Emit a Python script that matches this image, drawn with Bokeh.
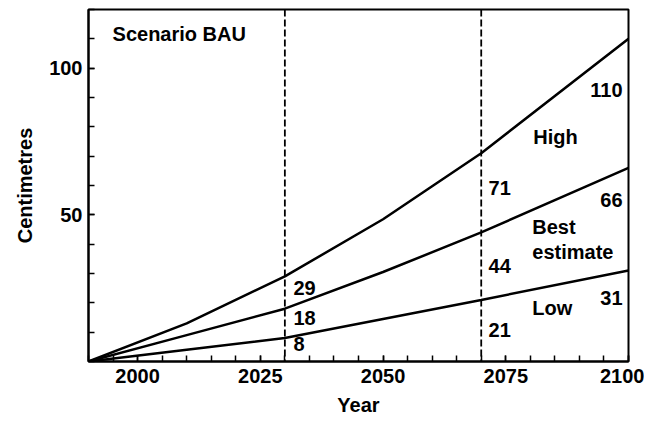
from bokeh.plotting import figure
from bokeh.models import Span, Range1d, FixedTicker, ColumnDataSource
from bokeh.embed import file_html
from bokeh.resources import INLINE
from bokeh.core.properties import value

# ---- data ----
years = [1990, 2010, 2030, 2050, 2070, 2100]
high = [0, 13, 29, 48.5, 71, 110]
best = [0, 9, 18, 30.5, 44, 66]
low = [0, 4, 8, 14.5, 21, 31]

marker_years = [2030, 2070]
x_major = [2000, 2025, 2050, 2075, 2100]
x_minor = list(range(1990, 2101, 5))
y_major = [50, 100]
y_minor = list(range(0, 121, 10))

title_text = "Scenario BAU"
series_names = ["High", "Best", "estimate", "Low"]

FONT = "Liberation Sans"
FS = "20px"

p = figure(width=644, height=422, output_backend="svg", toolbar_location=None,
           x_range=Range1d(1990, 2100), y_range=Range1d(0, 120),
           min_border_left=88, min_border_right=16, min_border_top=9, min_border_bottom=61)
p.background_fill_color = "white"
p.border_fill_color = "white"
p.grid.visible = False
p.outline_line_color = "black"
p.outline_line_width = 2

for ax in (p.xaxis[0], p.yaxis[0]):
    ax.axis_line_width = 2
    ax.major_tick_in = 6
    ax.major_tick_out = 0
    ax.minor_tick_in = 6
    ax.minor_tick_out = 0
    ax.major_tick_line_width = 1.5
    ax.minor_tick_line_width = 1.5
    ax.major_label_text_font = FONT
    ax.major_label_text_font_size = FS
    ax.major_label_text_font_style = "bold"
    ax.major_label_text_color = "black"
    ax.axis_label_text_font = FONT
    ax.axis_label_text_font_size = FS
    ax.axis_label_text_font_style = "bold"
    ax.axis_label_text_color = "black"

p.xaxis.ticker = FixedTicker(ticks=x_major, minor_ticks=x_minor)
p.yaxis.ticker = FixedTicker(ticks=y_major, minor_ticks=y_minor)
p.xaxis.major_label_standoff = 7
p.yaxis.major_label_standoff = 6
p.xaxis.axis_label = "Year"
p.yaxis.axis_label = "Centimetres"
p.xaxis.axis_label_standoff = 8
p.yaxis.axis_label_standoff = 10

for y in marker_years:
    p.add_layout(Span(location=y, dimension="height", line_color="black",
                      line_width=1.8, line_dash="7 3"))

for s in (high, best, low):
    p.line(years, s, line_color="black", line_width=2.5)

def val_at(series, yr):
    return series[years.index(yr)]

# label placement offsets (years, cm) relative to each series value
lab_x, lab_y, lab_t, lab_align = [], [], [], []
offs = {2030: (1.75, [-3.8, -3.0, -1.9], "left"),
        2070: (1.5, [-11.7, -11.3, -10.4], "left"),
        2100: (-1.2, [-17.6, -10.8, -9.2], "right")}
for yr, (dx, dys, al) in offs.items():
    for s, dy in zip((high, best, low), dys):
        v = val_at(s, yr)
        lab_x.append(yr + dx)
        lab_y.append(v + dy)
        lab_t.append(str(int(round(v))))
        lab_align.append(al)

src = ColumnDataSource(dict(x=lab_x, y=lab_y, t=lab_t, a=lab_align))
p.text(x="x", y="y", text="t", text_align="a", source=src,
       text_baseline="middle", text_font=value(FONT), text_font_size=FS,
       text_font_style="bold", text_color="black")

name_x = [2080.6, 2080.4, 2080.4, 2080.4]
name_y = [76.4, 46.0, 37.2, 18.4]
p.text(x=name_x, y=name_y, text=series_names, text_align="left",
       text_baseline="middle", text_font=value(FONT), text_font_size=FS,
       text_font_style="bold", text_color="black")

p.text(x=[1994.9], y=[111.8], text=[title_text], text_align="left",
       text_baseline="middle", text_font=value(FONT), text_font_size=FS,
       text_font_style="bold", text_color="black")

open("out.html", "w").write(file_html(p, INLINE))
